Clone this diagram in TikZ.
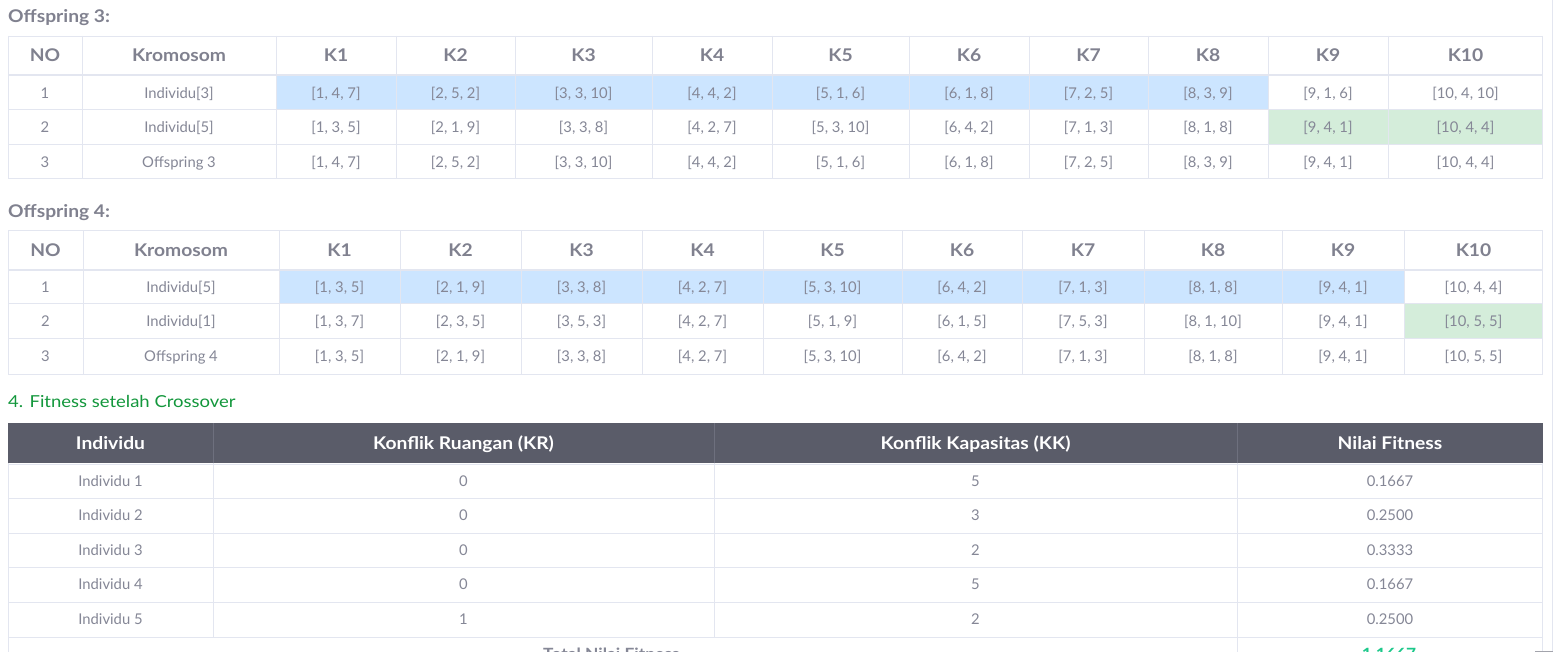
\documentclass[tikz,border=0pt]{standalone}
\usepackage{fontspec}
\setmainfont{Lato}
\definecolor{txt}{HTML}{858796}
\definecolor{hd}{HTML}{80818F}
\definecolor{bord}{HTML}{E3E6F0}
\definecolor{hblue}{HTML}{CCE5FF}
\definecolor{hgreen}{HTML}{D4EDDA}
\definecolor{dark}{HTML}{5A5C69}
\definecolor{darksep}{HTML}{6E707E}
\definecolor{ttl}{HTML}{13973C}
\definecolor{teal}{HTML}{1CC88A}
\definecolor{edge}{HTML}{A3A4AC}
\begin{document}
\begin{tikzpicture}[x=1pt,y=-1pt,
  body/.style={text=txt,font=\fontsize{14.8}{17}\selectfont,inner sep=0pt,text height=10.6pt,text depth=0pt,anchor=center},
  head/.style={text=hd,font=\fontsize{17.5}{20}\selectfont\bfseries\addfontfeatures{FakeStretch=1.1},inner sep=0pt,text height=12.6pt,text depth=0pt,anchor=center},
  whead/.style={head,text=white},
  title/.style={text=hd,font=\fontsize{17.5}{20}\selectfont\bfseries\addfontfeatures{FakeStretch=1.1},inner sep=0pt,anchor=west,text height=12.2pt,text depth=0pt},
  gtitle/.style={text=ttl,font=\fontsize{16.5}{19}\selectfont\addfontfeatures{FakeStretch=1.12},inner sep=0pt,anchor=west,text height=11.6pt,text depth=0pt},
  grid/.style={draw=bord,line width=1pt},
]
\useasboundingbox (0,0) rectangle (1553,652);
\clip (0,0) rectangle (1553,652);
\fill[white] (0,0) rectangle (1553,652);

% ---------------- Table 1 ----------------
\node[title] (title3) at (8,16) {Offspring 3:};
\fill[hblue] (276,76) rectangle (1268,110);
\fill[hgreen] (1268,110) rectangle (1543,145);
\foreach \y in {36.5,110,145,179} \draw[grid] (8,\y) -- (1543,\y);
\draw[bord,line width=2pt] (8,75) -- (1543,75);
\foreach \x in {8.5,82,276,396,515,652,772,909,1029,1148,1268,1388,1542.5} \draw[grid] (\x,36) -- (\x,179.5);
\def\cxA{{45,179,336,455.5,583.5,712,840.5,969,1088.5,1208,1328,1465.5}}
\foreach \t [count=\i] in {NO,Kromosom,K1,K2,K3,K4,K5,K6,K7,K8,K9,K10}{
  \pgfmathsetmacro\cx{\cxA[\i-1]}
  \node[head] (a-h-\i) at (\cx,55) {\t};}
\foreach \t [count=\i] in {1,{Individu[3]},{[1, 4, 7]},{[2, 5, 2]},{[3, 3, 10]},{[4, 4, 2]},{[5, 1, 6]},{[6, 1, 8]},{[7, 2, 5]},{[8, 3, 9]},{[9, 1, 6]},{[10, 4, 10]}}{
  \pgfmathsetmacro\cx{\cxA[\i-1]}
  \node[body] (a-1-\i) at (\cx,93) {\t};}
\foreach \t [count=\i] in {2,{Individu[5]},{[1, 3, 5]},{[2, 1, 9]},{[3, 3, 8]},{[4, 2, 7]},{[5, 3, 10]},{[6, 4, 2]},{[7, 1, 3]},{[8, 1, 8]},{[9, 4, 1]},{[10, 4, 4]}}{
  \pgfmathsetmacro\cx{\cxA[\i-1]}
  \node[body] (a-2-\i) at (\cx,127.5) {\t};}
\foreach \t [count=\i] in {3,{Offspring 3},{[1, 4, 7]},{[2, 5, 2]},{[3, 3, 10]},{[4, 4, 2]},{[5, 1, 6]},{[6, 1, 8]},{[7, 2, 5]},{[8, 3, 9]},{[9, 4, 1]},{[10, 4, 4]}}{
  \pgfmathsetmacro\cx{\cxA[\i-1]}
  \node[body] (a-3-\i) at (\cx,162) {\t};}

% ---------------- Table 2 ----------------
\node[title] (title4) at (8,211) {Offspring 4:};
\fill[hblue] (279,271) rectangle (1404,304);
\fill[hgreen] (1404,304) rectangle (1543,339);
\foreach \y in {231,304,339,374} \draw[grid] (8,\y) -- (1543,\y);
\draw[bord,line width=2pt] (8,270) -- (1543,270);
\foreach \x in {8.5,83,279,400,521,642,763,902,1022,1144,1282,1404,1542.5} \draw[grid] (\x,230.5) -- (\x,374.5);
\def\cxB{{45.5,181,339.5,460.5,581.5,702.5,832.5,962,1083,1213,1343,1473.5}}
\foreach \t [count=\i] in {NO,Kromosom,K1,K2,K3,K4,K5,K6,K7,K8,K9,K10}{
  \pgfmathsetmacro\cx{\cxB[\i-1]}
  \node[head] (b-h-\i) at (\cx,250) {\t};}
\foreach \t [count=\i] in {1,{Individu[5]},{[1, 3, 5]},{[2, 1, 9]},{[3, 3, 8]},{[4, 2, 7]},{[5, 3, 10]},{[6, 4, 2]},{[7, 1, 3]},{[8, 1, 8]},{[9, 4, 1]},{[10, 4, 4]}}{
  \pgfmathsetmacro\cx{\cxB[\i-1]}
  \node[body] (b-1-\i) at (\cx,287) {\t};}
\foreach \t [count=\i] in {2,{Individu[1]},{[1, 3, 7]},{[2, 3, 5]},{[3, 5, 3]},{[4, 2, 7]},{[5, 1, 9]},{[6, 1, 5]},{[7, 5, 3]},{[8, 1, 10]},{[9, 4, 1]},{[10, 5, 5]}}{
  \pgfmathsetmacro\cx{\cxB[\i-1]}
  \node[body] (b-2-\i) at (\cx,321.5) {\t};}
\foreach \t [count=\i] in {3,{Offspring 4},{[1, 3, 5]},{[2, 1, 9]},{[3, 3, 8]},{[4, 2, 7]},{[5, 3, 10]},{[6, 4, 2]},{[7, 1, 3]},{[8, 1, 8]},{[9, 4, 1]},{[10, 5, 5]}}{
  \pgfmathsetmacro\cx{\cxB[\i-1]}
  \node[body] (b-3-\i) at (\cx,356.5) {\t};}

% ---------------- Table 3 ----------------
\node[gtitle] (title5) at (8,402) {4. Fitness setelah Crossover};
\fill[dark] (8,423) rectangle (1543,463);
\foreach \x in {213,714,1237} \draw[darksep,line width=1pt] (\x,423) -- (\x,463);
\foreach \y in {464,498,533,567,602,637} \draw[grid] (8,\y) -- (1543,\y);
\foreach \x in {213,714} \draw[grid] (\x,463) -- (\x,637);
\foreach \x in {8.5,1237,1542.5} \draw[grid] (\x,463) -- (\x,660);
\def\cxC{{110.5,463.5,975.5,1390}}
\foreach \t [count=\i] in {Individu,{Konflik Ruangan (KR)},{Konflik Kapasitas (KK)},{Nilai Fitness}}{
  \pgfmathsetmacro\cx{\cxC[\i-1]}
  \node[whead] (c-h-\i) at (\cx,443) {\t};}
\foreach \n/\kr/\kk/\nf/\yc in {1/0/5/0.1667/481,2/0/3/0.2500/515.5,3/0/2/0.3333/550,4/0/5/0.1667/584.5,5/1/2/0.2500/619.5}{
  \node[body] (c-\n-1) at (110.5,\yc) {Individu \n};
  \node[body] (c-\n-2) at (463.5,\yc) {\kr};
  \node[body] (c-\n-3) at (975.5,\yc) {\kk};
  \node[body] (c-\n-4) at (1390,\yc) {\nf};}
\node[body,anchor=west,font=\fontsize{15.5}{18}\selectfont\bfseries\addfontfeatures{FakeStretch=1.12}] (tot) at (543,654.5) {Total Nilai Fitness};
\node[body,text=teal,font=\fontsize{15.5}{18}\selectfont\bfseries\addfontfeatures{FakeStretch=1.12}] (totv) at (1389,654.5) {1.1667};

% container edge
\draw[bord,line width=1pt] (1552.5,0) -- (1552.5,652);
\draw[edge,line width=1pt] (1535,651.5) -- (1553,651.5);
\end{tikzpicture}
\end{document}
